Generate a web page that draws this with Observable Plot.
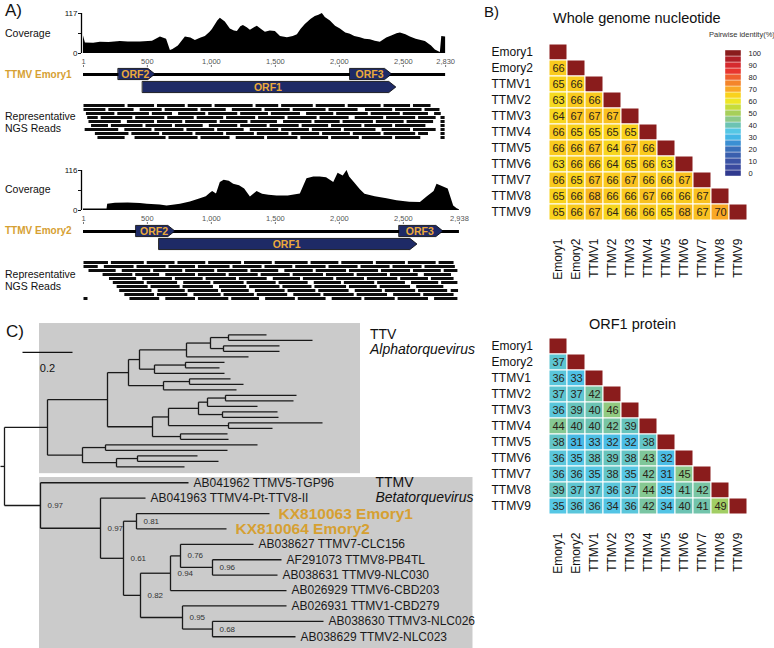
<!DOCTYPE html>
<html><head><meta charset="utf-8">
<script src="https://cdn.jsdelivr.net/npm/d3@7"></script>
<script src="https://cdn.jsdelivr.net/npm/@observablehq/plot@0.6"></script>
<style>
body{margin:0;background:#fff;}
#fig{position:relative;width:774px;height:648px;overflow:hidden;background:#fff;font-family:"Liberation Sans",Arial,sans-serif;color:#111;}
.lbl{position:absolute;white-space:nowrap;line-height:1.15;transform:translateY(-50%);}
.pl{position:absolute;}
</style></head><body><div id="fig"></div>
<script>
// ---------------- DATA ----------------
// Panel A: coverage [position, depth]
const emory1Coverage = [[1,51],[16,31],[80,30],[133,33],[200,32],[289,35],[350,34],[445,34],[540,36],[602,48],[650,42],[680,9],[700,12],[742,22],[797,48],[840,45],[875,38],[920,45],[953,50],[990,62],[1008,70],[1050,95],[1070,103],[1109,92],[1148,72],[1180,66],[1203,64],[1230,78],[1250,82],[1280,75],[1305,68],[1340,76],[1359,80],[1400,68],[1422,62],[1460,66],[1500,64],[1540,50],[1594,46],[1640,50],[1672,55],[1700,70],[1734,85],[1780,100],[1812,108],[1840,112],[1867,117],[1890,105],[1930,95],[1970,80],[2008,72],[2050,60],[2086,56],[2120,50],[2164,46],[2200,42],[2242,40],[2280,36],[2320,33],[2370,45],[2414,52],[2450,58],[2477,60],[2520,55],[2555,48],[2600,42],[2672,35],[2720,22],[2750,10],[2789,3],[2800,50],[2830,48]];
const emory2Coverage = [[1,4],[100,4],[185,4],[190,18],[250,21],[350,22],[445,20],[500,18],[600,16],[654,13],[700,15],[758,18],[836,25],[914,34],[960,40],[992,50],[1010,55],[1040,48],[1070,81],[1100,88],[1140,85],[1174,76],[1220,72],[1260,62],[1305,39],[1357,55],[1400,47],[1450,44],[1513,42],[1600,42],[1695,48],[1747,92],[1800,97],[1850,97],[1900,95],[1956,81],[1990,108],[2030,100],[2060,116],[2080,97],[2120,80],[2164,60],[2200,47],[2280,40],[2372,34],[2450,28],[2550,24],[2633,23],[2685,39],[2740,55],[2763,76],[2800,70],[2850,62],[2893,13],[2920,5],[2938,2]];
const emory1Length = 2830, emory2Length = 2938;
const emory1Max = 117, emory2Max = 116;
const emory1Ticks = [1,500,1000,1500,2000,2500,2830];
const emory2Ticks = [1,500,1000,1500,2000,2500,2938];
const emory1Orfs = [{name:"ORF2",start:276,end:563,track:"genome"},{name:"ORF3",start:2086,end:2412,track:"genome"},{name:"ORF1",start:466,end:2445,track:"orf1"}];
const emory2Orfs = [{name:"ORF2",start:414,end:719,track:"genome"},{name:"ORF3",start:2470,end:2813,track:"genome"},{name:"ORF1",start:594,end:2610,track:"orf1"}];
// representative reads: one list of [start,end] per row
const emory1Reads = [
 [[1,330],[345,560],[575,800],[815,1010],[1025,1330],[1345,1530],[1545,1800],[1815,2050],[2065,2330],[2345,2560],[2575,2720]],
 [[1,180],[195,400],[440,620],[635,900],[915,1120],[1160,1400],[1415,1620],[1635,1900],[1915,2150],[2200,2420],[2435,2650],[2665,2790]],
 [[20,250],[265,520],[535,700],[740,960],[975,1210],[1225,1450],[1465,1700],[1740,1960],[1975,2230],[2245,2480],[2495,2700],[2740,2800]],
 [[30,120],[135,390],[405,640],[655,870],[885,1100],[1115,1350],[1365,1580],[1595,1830],[1845,2080],[2120,2350],[2365,2600],[2615,2760],[2790,2830]],
 [[40,300],[340,560],[575,780],[795,1050],[1065,1290],[1305,1520],[1560,1790],[1805,2010],[2025,2270],[2285,2510],[2525,2740],[2790,2830]],
 [[60,200],[215,470],[485,700],[715,940],[980,1210],[1225,1440],[1455,1690],[1705,1920],[1935,2180],[2195,2420],[2435,2680],[2790,2830]],
 [[10,280],[320,540],[555,790],[805,1030],[1045,1260],[1300,1530],[1545,1770],[1785,2020],[2035,2290],[2330,2560],[2575,2760],[2790,2830]],
 [[90,360],[375,600],[615,860],[875,1100],[1115,1340],[1355,1610],[1625,1850],[1865,2090],[2105,2330],[2345,2600],[2615,2700],[2790,2830]],
 [[110,330],[400,650],[665,900],[915,1150],[1190,1420],[1435,1680],[1695,1920],[1935,2160],[2175,2420],[2435,2640],[2790,2830]]
];
const emory2Reads = [
 [[1,200],[215,480],[495,720],[735,960],[975,1240],[1255,1480],[1495,1760],[1775,2000],[2015,2270],[2285,2520],[2535,2760],[2775,2900]],
 [[1,120],[160,400],[415,650],[665,880],[895,1150],[1165,1400],[1415,1640],[1655,1900],[1915,2150],[2165,2400],[2415,2650],[2665,2910]],
 [[40,260],[300,530],[545,780],[795,1030],[1045,1290],[1305,1530],[1570,1800],[1815,2060],[2075,2310],[2325,2560],[2575,2800],[2815,2930]],
 [[150,390],[405,600],[640,880],[895,1120],[1135,1370],[1385,1620],[1635,1880],[1895,2120],[2135,2380],[2395,2620],[2660,2880]],
 [[200,420],[460,700],[715,940],[955,1200],[1215,1440],[1480,1700],[1715,1960],[1975,2200],[2215,2460],[2475,2700],[2715,2900]],
 [[230,480],[495,740],[780,1000],[1015,1260],[1275,1510],[1525,1760],[1800,2020],[2035,2280],[2295,2520],[2560,2780],[2795,2930]],
 [[260,510],[525,760],[775,1020],[1060,1280],[1295,1540],[1555,1790],[1805,2060],[2075,2300],[2315,2560],[2600,2820]],
 [[280,540],[580,800],[815,1060],[1075,1300],[1340,1580],[1595,1820],[1835,2080],[2120,2340],[2355,2600],[2615,2850],[2870,2935]],
 [[320,560],[575,820],[860,1080],[1095,1340],[1355,1600],[1640,1860],[1875,2120],[2135,2380],[2420,2640],[2655,2900]],
 [[1,40],[360,600],[640,880],[895,1140],[1155,1380],[1420,1660],[1675,1900],[1940,2180],[2195,2440],[2455,2700],[2740,2930]]
];

// Panel B: pairwise identity matrices (lower triangle)
const genomeNames = ["Emory1","Emory2","TTMV1","TTMV2","TTMV3","TTMV4","TTMV5","TTMV6","TTMV7","TTMV8","TTMV9"];
const wholeGenomeIdentity = [
 [66],
 [65,66],
 [63,66,66],
 [64,67,67,67],
 [66,65,65,65,65],
 [66,66,67,64,67,66],
 [63,66,66,64,65,66,63],
 [66,65,67,66,67,66,66,67],
 [65,66,68,66,66,67,66,66,67],
 [65,66,67,64,66,66,65,68,67,70]
];
const orf1Identity = [
 [37],
 [36,33],
 [37,37,42],
 [36,39,40,46],
 [44,40,40,42,39],
 [38,31,33,32,32,38],
 [36,35,38,39,38,43,32],
 [36,36,35,38,35,42,31,45],
 [39,37,37,36,37,44,35,41,42],
 [35,36,36,34,36,42,34,40,41,49]
];
const identityStops = [0,5,10,15,20,25,30,35,40,45,50,55,60,65,70,75,80,85,90,95,100];
const identityColors = ["#303a8f","#3a4a9f","#3b53a5","#3a5fae","#3a6fba","#3b8fd3","#44b6e6","#55c7e5","#6cc3b3","#8cc98a","#a7cf5a","#c6dc3a","#eee626","#f9d21c","#f9a825","#f4852a","#ef5f2e","#e8362f","#d62a2e","#b01f26","#8a1c1c"];
const legendTicks = [0,10,20,30,40,50,60,70,80,90,100];

// Panel C: phylogeny (branch lengths, bootstrap support)
const T = (len, ...children) => ({len, children});
const S = (support, len, ...children) => ({len, support, children});
const leaf = (len, name = null, highlight = false) => ({len, name, highlight});
const ttvClade = T(0.172,
  T(0.24,
    T(0.084,
      T(0.044,
        T(0.188,
          T(0.096, T(0.072, leaf(0.152), leaf(0.336)), T(0.052, leaf(0.224), leaf(0.224))),
          leaf(0.248)),
        T(0.06, T(0.124, leaf(0.156), leaf(0.136)), leaf(0.28))),
      T(0.14, T(0.104, leaf(0.164), leaf(0.216)), leaf(0.292))),
    T(0.18,
      T(0.064,
        T(0.12,
          T(0.036, T(0.072, leaf(0.284), leaf(0.272)), leaf(0.2)),
          T(0.096, leaf(0.22), leaf(0.224))),
        T(0.24, leaf(0.376), leaf(0.176))),
      T(0.112, leaf(0.188), leaf(0.192)))),
  T(0.14,
    T(0.092, leaf(0.608), leaf(0.488)),
    T(0.136, T(0.084, leaf(0.24), leaf(0.324)), leaf(0.272))));
const ttmvClade = S(0.97, 0.144,
  leaf(0.592, "AB041962 TTMV5-TGP96"),
  S(0.97, 0.24,
    leaf(0.18, "AB041963 TTMV4-Pt-TTV8-II"),
    S(0.61, 0.092,
      S(0.81, 0.052, leaf(0.532, "KX810063 Emory1", true), leaf(0.36, "KX810064 Emory2", true)),
      S(0.82, 0.068,
        S(0.94, 0.12,
          S(0.76, 0.04, leaf(0.292, "AB038627 TTMV7-CLC156"),
            S(0.96, 0.128, leaf(0.276, "AF291073 TTMV8-PB4TL"), leaf(0.26, "AB038631 TTMV9-NLC030"))),
          leaf(0.464, "AB026929 TTMV6-CBD203")),
        S(0.95, 0.168, leaf(0.416, "AB026931 TTMV1-CBD279"),
          S(0.68, 0.12, leaf(0.444, "AB038630 TTMV3-NLC026"), leaf(0.332, "AB038629 TTMV2-NLC023")))))));
const treeRoot = T(0.016, ttvClade, ttmvClade);
const clades = [
  {node: ttvClade, name: "TTV", genus: "Alphatorquevirus", rowStart: 0, rowStep: 1, padTop: 2.05, padBottom: 1.25, boxEnd: 1.44, labelX: 1.478},
  {node: ttmvClade, name: "TTMV", genus: "Betatorquevirus", rowStart: 26.9, rowStep: 2.8, padTop: 0.95, padBottom: 3.5, boxEnd: 1.89, labelX: 1.5}
];
const scaleBar = {length: 0.2, x: 0.088, y: 3.2};

// ---------------- RENDERING ----------------
const FONT = "Liberation Sans, Arial, sans-serif";
const fig = document.getElementById("fig");
function put(node, left, top) { node.classList.add("pl"); node.style.left = left + "px"; node.style.top = top + "px"; fig.appendChild(node); }
function label(text, x, yc, size, extra = {}) {
  const d = document.createElement("div"); d.className = "lbl"; d.textContent = text;
  d.style.left = x + "px"; d.style.top = yc + "px"; d.style.fontSize = size + "px";
  Object.assign(d.style, extra); fig.appendChild(d); return d;
}
const baseStyle = (fs) => ({fontFamily: FONT, fontSize: fs + "px", background: "transparent", overflow: "visible"});
const ORANGE = "#d6a032", NAVY = "#1e2a66";
const W = 470, X0 = 83, PX_PER_BP = 0.128;

function genomePanel(cov, len, max, ticks, orfs, reads, top) {
  const marginRight = W - (X0 + (len - 1) * PX_PER_BP);
  const xs = {domain: [1, len], axis: null};
  // coverage
  put(Plot.plot({
    width: W, height: 45, marginLeft: X0, marginRight, marginTop: 3, marginBottom: 2,
    x: xs, y: {domain: [0, max]}, style: baseStyle(8),
    marks: [
      Plot.areaY(cov, {x: d => d[0], y: d => d[1], fill: "#000", curve: "linear"}),
      Plot.ruleX([1], {y1: 0, y2: max, stroke: "#000", strokeWidth: 1.3, dx: -2}),
      Plot.axisY({ticks: [0, max / 2, max], tickFormat: d => d === max / 2 ? "" : String(d), tickSize: 3, tickPadding: 1, label: null, fontSize: 8, dx: -2})
    ]
  }), 0, top);
  // genome map
  const head = 55, h = 0.43;
  const lane = o => o.track === "orf1" ? -1 : 0;
  const shapes = orfs.flatMap(o => [
    {id: o.name, x: o.start, y1: lane(o) - h, y2: lane(o) + h},
    {id: o.name, x: o.end - head, y1: lane(o) - h, y2: lane(o) + h},
    {id: o.name, x: o.end, y1: lane(o), y2: lane(o)}
  ]);
  put(Plot.plot({
    width: W, height: 42, marginLeft: X0, marginRight, marginTop: 12, marginBottom: 2,
    x: xs, y: {domain: [-1.5, 0.5], range: [39.5, 13.5], axis: null}, style: baseStyle(8),
    marks: [
      Plot.ruleY([0], {x1: 1, x2: len, stroke: "#000", strokeWidth: 3.2}),
      Plot.areaY(shapes, {x: "x", y1: "y1", y2: "y2", z: "id", fill: NAVY, stroke: "#000", strokeWidth: 0.8, strokeLinejoin: "round"}),
      Plot.text(orfs, {x: o => (o.start + o.end - head / 2) / 2, y: lane, text: "name", fill: "#eba93b", fontWeight: "bold", fontSize: 10.5}),
      Plot.axisX({anchor: "top", ticks, tickFormat: d3.format(","), tickSize: 2, tickPadding: 1, fontSize: 7.5, fill: "#555", stroke: "#777", label: null})
    ]
  }), 0, top + 44);
  // reads: 4px rows, 3px bars, 1px white separators
  const rows = reads.flatMap((row, i) => row.map(([s, e]) => ({s, e, row: i})));
  put(Plot.plot({
    width: W, height: (reads.length + 0.25) * 4 + 2, marginLeft: X0, marginRight, marginTop: 1, marginBottom: 1,
    x: xs, y: {domain: reads.map((_, i) => i), axis: null, padding: 0.25}, style: baseStyle(8),
    marks: [Plot.barX(rows, {x1: "s", x2: "e", y: "row", fill: "#0d0d0d", insetLeft: 0.5, insetRight: 0.5})]
  }), 0, top + 92);
}

genomePanel(emory1Coverage, emory1Length, emory1Max, emory1Ticks, emory1Orfs, emory1Reads, 10);
genomePanel(emory2Coverage, emory2Length, emory2Max, emory2Ticks, emory2Orfs, emory2Reads, 167);

label("A)", 5, 11, 17);
label("Coverage", 5, 33, 10.5);
label("TTMV Emory1", 5, 75, 10, {color: ORANGE, fontWeight: "bold"});
label("Representative", 5, 116, 10.5);
label("NGS Reads", 5, 127.5, 10.5);
label("Coverage", 5, 189, 10.5);
label("TTMV Emory2", 5, 231, 10, {color: ORANGE, fontWeight: "bold"});
label("Representative", 5, 274, 10.5);
label("NGS Reads", 5, 285.5, 10.5);

// ---- Panel B heatmaps ----
const colorScale = {type: "linear", domain: identityStops, range: identityColors, interpolate: "rgb"};
function heatmap(values, top, height, marginBottom, pad) {
  const cells = [];
  genomeNames.forEach((r, i) => {
    for (let j = 0; j < i; j++) cells.push({row: r, col: genomeNames[j], v: values[i - 1][j], diag: false});
    cells.push({row: r, col: r, v: 100, diag: true});
  });
  put(Plot.plot({
    width: 290, height, marginLeft: 68, marginRight: 23, marginTop: 11, marginBottom,
    x: {domain: genomeNames, padding: 0, label: null},
    y: {domain: genomeNames, padding: 0, axis: null},
    color: colorScale, style: baseStyle(12),
    marks: [
      Plot.cell(cells, {x: "col", y: "row", fill: "v", stroke: "#fff", strokeWidth: 1}),
      Plot.text(cells.filter(d => !d.diag), {x: "col", y: "row", text: d => String(d.v), fill: "#2a2418", fontSize: 11}),
      Plot.axisX({anchor: "bottom", tickRotate: -90, tickSize: 0, tickPadding: pad, fontSize: 12, label: null, letterSpacing: "-0.5px"}),
      Plot.text(genomeNames, {y: d => d, frameAnchor: "left", dx: -57, textAnchor: "start", fontSize: 12, letterSpacing: "-0.5px"})
    ]
  }), 480, top);
}
heatmap(wholeGenomeIdentity, 30, 260, 68, 16);
heatmap(orf1Identity, 325, 270, 79, 16);

// legend
put(Plot.plot({
  width: 54, height: 146, marginLeft: 5, marginRight: 33, marginTop: 2, marginBottom: 3,
  x: {domain: ["bar"], padding: 0, axis: null},
  y: {domain: identityStops.slice().reverse(), padding: 0, axis: null},
  color: colorScale, style: baseStyle(7.5),
  marks: [
    Plot.cell(identityStops, {x: () => "bar", y: d => d, fill: d => d, stroke: "#fff", strokeWidth: 0.4}),
    Plot.text(legendTicks, {x: () => "bar", y: d => d, text: d => String(d), dx: 15, textAnchor: "start", fontSize: 7.5, fill: "#222"})
  ]
}), 720, 40);
label("Pairwise identity(%)", 709, 35, 7.5, {color: "#333"});

label("B)", 484, 12, 15);
label("Whole genome nucleotide", 553, 18, 14.5);
label("ORF1 protein", 589, 324, 14.5);

// ---- Panel C tree ----
function layout(node, parentX, rows) {
  node.x = parentX + node.len;
  if (!node.children) { node.y = rows.start + rows.step * rows.i++; }
  else {
    node.children.forEach(c => layout(c, node.x, rows));
    node.y = (node.children[0].y + node.children[node.children.length - 1].y) / 2;
  }
}
treeRoot.x = treeRoot.len;
clades.forEach(c => { const rows = {start: c.rowStart, step: c.rowStep, i: 0}; layout(c.node, treeRoot.x, rows); c.rows = rows; });
treeRoot.y = (ttvClade.y + ttmvClade.y) / 2;
const segs = [], leaves = [], internals = [];
(function walk(node, parent) {
  segs.push({x1: parent ? parent.x : 0, x2: node.x, y1: node.y, y2: node.y});
  if (node.children) {
    segs.push({x1: node.x, x2: node.x, y1: node.children[0].y, y2: node.children[node.children.length - 1].y});
    internals.push(node);
    node.children.forEach(c => walk(c, node));
  } else leaves.push(node);
})(treeRoot, null);
const boxes = clades.map(c => ({
  x1: ttmvClade.x - 0.004, x2: c.boxEnd,
  y1: c.rowStart - c.padTop, y2: c.rowStart + c.rowStep * (c.rows.i - 1) + c.padBottom,
  name: c.name, genus: c.genus, labelX: c.labelX, labelY: c.rowStart
}));
put(Plot.plot({
  width: 476, height: 330, marginLeft: 0, marginRight: 0, marginTop: 0, marginBottom: 0,
  x: {domain: [0, 1.9], range: [0, 475], axis: null},
  y: {domain: [0, 57], range: [16.3, 329.8], axis: null},
  style: baseStyle(12),
  marks: [
    Plot.rect(boxes, {x1: "x1", x2: "x2", y1: "y1", y2: "y2", fill: "#cbcbcb"}),
    Plot.link(segs, {x1: "x1", x2: "x2", y1: "y1", y2: "y2", stroke: "#1a1a1a", strokeWidth: 1.3}),
    Plot.text(leaves.filter(d => d.name && !d.highlight), {x: "x", y: "y", text: "name", dx: 5, textAnchor: "start", fontSize: 12, fill: "#1a1a1a"}),
    Plot.text(leaves.filter(d => d.highlight), {x: "x", y: "y", text: "name", dx: 9, textAnchor: "start", fontSize: 15.5, fontWeight: "bold", fill: ORANGE}),
    Plot.text(internals.filter(d => d.support != null), {x: "x", y: "y", text: d => d.support.toFixed(2), dx: 7, textAnchor: "start", fontSize: 8, fill: "#333"}),
    Plot.text(boxes, {x: "labelX", y: "labelY", text: "name", textAnchor: "start", fontSize: 14, fill: "#111"}),
    Plot.text(boxes, {x: "labelX", y: "labelY", text: "genus", dy: 15, textAnchor: "start", fontSize: 14, fontStyle: "italic", fill: "#111"}),
    Plot.link([scaleBar], {x1: "x", x2: d => d.x + d.length, y1: "y", y2: "y", stroke: "#111", strokeWidth: 1.3}),
    Plot.text([scaleBar], {x: d => d.x + d.length / 2, y: "y", text: d => String(d.length), dy: 16, fontSize: 11, fill: "#111"})
  ]
}), 0, 318);
label("C)", 6, 332, 17);
</script></body></html>
